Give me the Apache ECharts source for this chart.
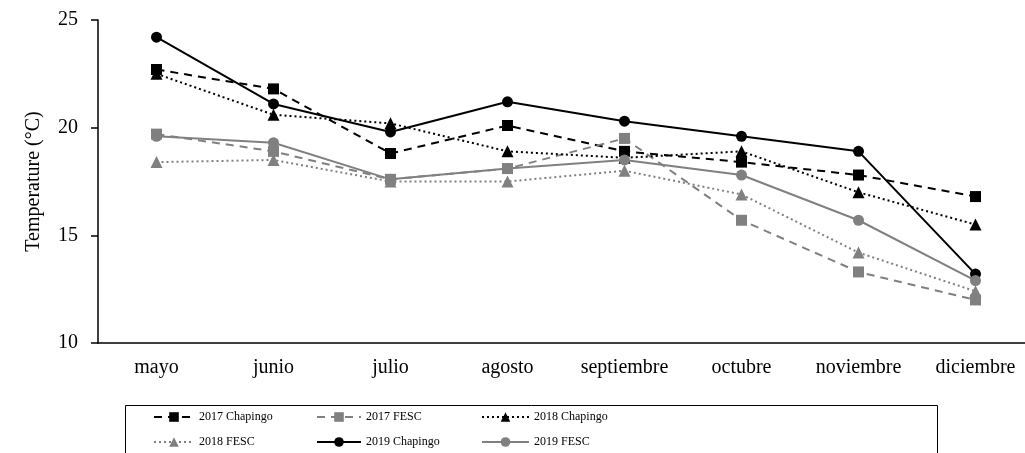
<!DOCTYPE html>
<html>
<head>
<meta charset="utf-8">
<script src="https://cdn.jsdelivr.net/npm/echarts@6/dist/echarts.min.js"></script>
<style>
  html, body { margin: 0; padding: 0; overflow: hidden; background: #fff; }
  #chart { width: 1040px; height: 453px; }
</style>
</head>
<body>
<div id="chart"></div>
<script>
// months on the x axis
const months = ['mayo', 'junio', 'julio', 'agosto', 'septiembre', 'octubre', 'noviembre', 'diciembre']

// mean temperature per month (°C)
const chapingo2017 = [22.7, 21.8, 18.8, 20.1, 18.9, 18.4, 17.8, 16.8]
const fesc2017 = [19.7, 18.9, 17.6, 18.1, 19.5, 15.7, 13.3, 12.0]
const chapingo2018 = [22.5, 20.6, 20.2, 18.9, 18.6, 18.9, 17.0, 15.5]
const fesc2018 = [18.4, 18.5, 17.5, 17.5, 18.0, 16.9, 14.2, 12.4]
const chapingo2019 = [24.2, 21.1, 19.8, 21.2, 20.3, 19.6, 18.9, 13.2]
const fesc2019 = [19.6, 19.3, 17.6, 18.1, 18.5, 17.8, 15.7, 12.9]

const yTicks = [10, 15, 20, 25]

const chart = echarts.init(document.getElementById('chart'))

const font = '"Liberation Serif", "Times New Roman", serif'
const black = '#000000'
const gray = '#808080'

function makeSeries(name, data, color, symbol, dash) {
  return {
    name: name,
    type: 'line',
    data: data,
    symbol: symbol,
    symbolSize: symbol === 'triangle' ? 12 : 11,
    showAllSymbol: true,
    lineStyle: { color: color, width: 2, type: dash },
    itemStyle: { color: color },
    emphasis: { disabled: true },
    z: 2
  }
}

// one legend per column, two rows each
function legendCol(left, width, names) {
  return {
    orient: 'vertical',
    left: left,
    top: 411,
    height: 60,
    padding: 0,
    itemWidth: width,
    itemHeight: 12,
    itemGap: 13,
    data: names,
    textStyle: { fontFamily: font, fontSize: 12, color: '#000' },
    selectedMode: false
  }
}

const option = {
  animation: false,
  backgroundColor: '#fff',
  grid: {
    left: 98,
    top: 20,
    width: 936,
    height: 323
  },
  legend: [
    legendCol(153, 40, ['2017 Chapingo', '2018 FESC']),
    legendCol(316, 44, ['2017 FESC', '2019 Chapingo']),
    legendCol(481, 47, ['2018 Chapingo', '2019 FESC'])
  ],
  graphic: [{
    type: 'rect',
    shape: { x: 125.5, y: 405.5, width: 812, height: 60 },
    style: { fill: 'none', stroke: '#000', lineWidth: 1 },
    z: -1
  }],
  xAxis: {
    type: 'category',
    data: months,
    boundaryGap: true,
    axisLine: { lineStyle: { color: '#000', width: 1.5 } },
    axisTick: { length: 5, lineStyle: { color: '#000', width: 1.5 } },
    axisLabel: { fontFamily: font, fontSize: 20, color: '#000', margin: 15 }
  },
  yAxis: {
    type: 'value',
    min: yTicks[0],
    max: yTicks[yTicks.length - 1],
    interval: 5,
    name: 'Temperature (°C)',
    nameLocation: 'middle',
    nameGap: 54,
    nameTextStyle: { fontFamily: font, fontSize: 20, color: '#000' },
    axisLine: { show: true, lineStyle: { color: '#000', width: 1.5 } },
    axisTick: { show: true, length: 7, lineStyle: { color: '#000', width: 1.5 } },
    axisLabel: { fontFamily: font, fontSize: 20, color: '#000', margin: 20 },
    splitLine: { show: false }
  },
  series: [
    makeSeries('2017 Chapingo', chapingo2017, black, 'rect', [8, 6]),
    makeSeries('2017 FESC', fesc2017, gray, 'rect', [8, 6]),
    makeSeries('2018 Chapingo', chapingo2018, black, 'triangle', [2, 3]),
    makeSeries('2018 FESC', fesc2018, gray, 'triangle', [2, 3]),
    makeSeries('2019 Chapingo', chapingo2019, black, 'circle', 'solid'),
    makeSeries('2019 FESC', fesc2019, gray, 'circle', 'solid')
  ]
}

chart.setOption(option)
</script>
</body>
</html>
